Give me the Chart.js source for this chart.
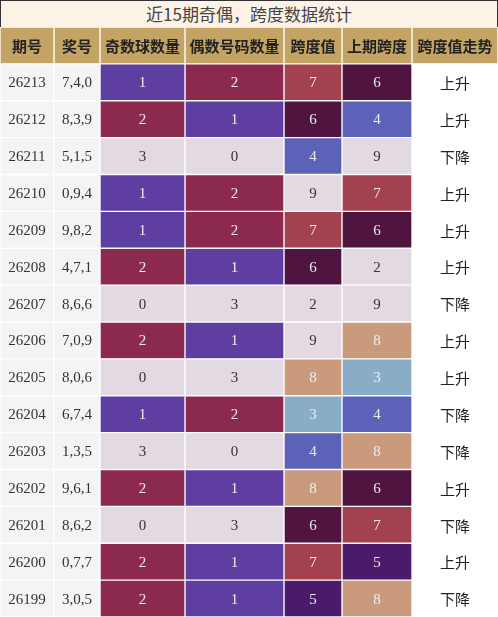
<!DOCTYPE html>
<html><head><meta charset="utf-8">
<script src="https://cdn.jsdelivr.net/npm/chart.js@4/dist/chart.umd.min.js"></script>
<style>
body{margin:0;background:#fff;}
#title{position:absolute;left:0;top:0;width:496px;height:26px;background:#FDF2E6;border:1px solid #333;border-bottom:none;font:17px "Noto Sans CJK SC",sans-serif;color:#444;text-align:center;line-height:26px;}
#wrap{position:absolute;left:0;top:27px;width:498px;height:590px;}
</style></head><body>
<div id="title">近15期奇偶，跨度数据统计</div>
<div id="wrap"><canvas id="c"></canvas></div>
<script>
const headers=["期号","奖号","奇数球数量","偶数号码数量","跨度值","上期跨度","跨度值走势"];
const periods=["26213","26212","26211","26210","26209","26208","26207","26206","26205","26204","26203","26202","26201","26200","26199"];
const draws=["7,4,0","8,3,9","5,1,5","0,9,4","9,8,2","4,7,1","8,6,6","7,0,9","8,0,6","6,7,4","1,3,5","9,6,1","8,6,2","0,7,7","3,0,5"];
const odds=[1,2,3,1,1,2,0,2,0,1,3,2,0,2,2];
const evens=[2,1,0,2,2,1,3,1,3,2,0,1,3,1,1];
const spans=[7,6,4,9,7,6,2,9,8,3,4,8,6,7,5];
const prevSpans=[6,4,9,7,6,2,9,8,3,4,8,6,7,5,8];
const trends=["上升","上升","下降","上升","上升","上升","下降","上升","上升","下降","下降","上升","下降","上升","下降"];
const colWidths=[54,46,85,99,58,70,86];

const cntColor={1:"#5E3EA0",2:"#8B2A4E",0:"#E3D9E3",3:"#E3D9E3"};
const spanColor={7:"#A44150",6:"#4F1440",4:"#5B62B8",9:"#E3D9E3",2:"#E3D9E3",8:"#C99A7B",3:"#89ADC6",5:"#4B1A6B"};
const lightSet=["#E3D9E3"];
const HEAD="#C4A464";
const labels=["h",...periods];
const texts=[
 [headers[0],...periods],[headers[1],...draws],[headers[2],...odds.map(String)],
 [headers[3],...evens.map(String)],[headers[4],...spans.map(String)],
 [headers[5],...prevSpans.map(String)],[headers[6],...trends]];
const colors=[
 [HEAD,...periods.map(()=>"#F4F4F4")],[HEAD,...periods.map(()=>"#F4F4F4")],
 [HEAD,...odds.map(v=>cntColor[v])],[HEAD,...evens.map(v=>cntColor[v])],
 [HEAD,...spans.map(v=>spanColor[v])],[HEAD,...prevSpans.map(v=>spanColor[v])],
 [HEAD,...periods.map(()=>"#FFFFFF")]];
const datasets=colWidths.map((w,i)=>({data:labels.map(()=>w),backgroundColor:colors[i],borderColor:"#FFFFFF",borderWidth:1,borderSkipped:false,categoryPercentage:1,barPercentage:1}));
const textPlugin={id:"t",afterDatasetsDraw(chart){
 const ctx=chart.ctx;ctx.save();ctx.textAlign="center";ctx.textBaseline="middle";
 chart.data.datasets.forEach((ds,i)=>{chart.getDatasetMeta(i).data.forEach((el,j)=>{
  const bg=colors[i][j];const x=(el.x+el.base)/2;
  if(j===0){ctx.font='bold 15px "Noto Sans CJK SC",sans-serif';ctx.fillStyle="#222";}
  else if(i===6){ctx.font='15px "Noto Sans CJK SC",sans-serif';ctx.fillStyle="#222";}
  else {ctx.font='15px "Liberation Serif",serif';
   ctx.fillStyle=(i<2||lightSet.includes(bg)||bg==="#F4F4F4")?"#333":"#EEE";}
  ctx.fillText(texts[i][j],x,el.y+1);});});
 ctx.restore();}};
new Chart(document.getElementById("c"),{type:"bar",data:{labels,datasets},
 options:{indexAxis:"y",responsive:true,maintainAspectRatio:false,animation:false,
  layout:{padding:0},plugins:{legend:{display:false},tooltip:{enabled:false}},
  scales:{x:{stacked:true,min:0,max:498,display:false},y:{stacked:true,display:false}}},
 plugins:[textPlugin]});
</script></body></html>
